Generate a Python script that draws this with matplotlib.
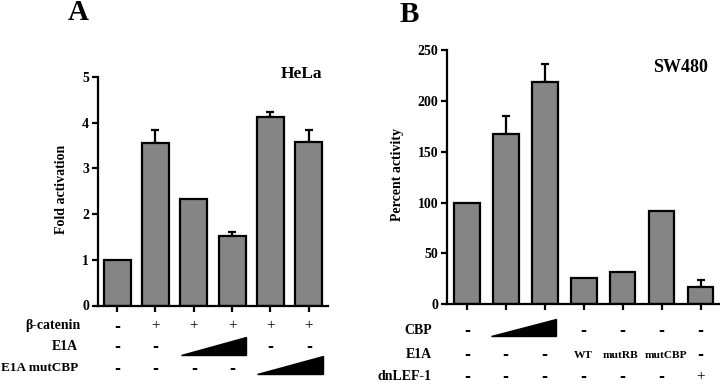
import matplotlib.pyplot as plt
from matplotlib.patches import Polygon
import matplotlib.transforms as mtransforms

# Panel A data (HeLa)
a_vals = [1.0, 3.56, 2.33, 1.53, 4.12, 3.57]
a_err = [0, 0.28, 0, 0.07, 0.11, 0.27]
a_beta = ['-', '+', '+', '+', '+', '+']
a_e1a = ['-', '-', None, None, '-', '-']
a_mut = ['-', '-', '-', '-', None, None]

# Panel B data (SW480)
b_vals = [100, 167, 219, 26, 32, 92, 17]
b_err = [0, 18, 17, 0, 0, 0, 7]
b_cbp = ['-', None, None, '-', '-', '-', '-']
b_e1a = ['-', '-', '-', 'WT', 'mutRB', 'mutCBP', '-']
b_lef = ['-', '-', '-', '-', '-', '-', '+']

W, H = 720, 385
plt.rcParams['font.family'] = 'Liberation Serif'
plt.rcParams['font.weight'] = 'bold'
fig = plt.figure(figsize=(W / 100, H / 100), dpi=100)

# small horizontal nudges (pixels) so the long row labels don't collide
nudge = {'mutRB': -2, 'mutCBP': 4}

def px_axes(x0, x1, y_top, y_bot):
    return fig.add_axes([x0 / W, 1 - y_bot / H, (x1 - x0) / W, (y_bot - y_top) / H])

def style(ax):
    for s in ['top', 'right']:
        ax.spines[s].set_visible(False)
    for s in ['left', 'bottom']:
        ax.spines[s].set_linewidth(1.6)
    ax.tick_params(width=1.6, length=4.5, labelsize=10, pad=2)
    for lab in ax.get_yticklabels():
        lab.set_fontweight('bold')
    ax.set_xticklabels([])

def row(ax, y, items, label, label_x, label_size=10):
    tr = mtransforms.blended_transform_factory(ax.transData, fig.transFigure)
    fy = 1 - y / H
    for i, t in enumerate(items):
        if t is None:
            continue
        if t == '-':
            ax.text(i, fy, '-', transform=tr, ha='center', va='center', fontsize=10.5,
                    family='DejaVu Sans', fontweight='bold', clip_on=False)
        elif t == '+':
            ax.text(i, fy, '+', transform=tr, ha='center', va='center', fontsize=11,
                    fontweight='normal', clip_on=False)
        else:
            off = mtransforms.ScaledTranslation(nudge.get(t, 0) / 100, 0, fig.dpi_scale_trans)
            ax.text(i, fy, t, transform=tr + off, ha='center', va='center', fontsize=8.2,
                    fontweight='bold', clip_on=False)
    fig.text(label_x / W, fy, label, ha='right', va='center', fontsize=label_size, fontweight='bold')

def wedge(ax, x0, x1, y_bot, y_top):
    tr = mtransforms.blended_transform_factory(ax.transData, fig.transFigure)
    p = Polygon([[x0, 1 - y_bot / H], [x1, 1 - y_bot / H], [x1, 1 - y_top / H]],
                closed=True, facecolor='black', edgecolor='black', transform=tr, clip_on=False)
    ax.add_patch(p)

def bars(ax, vals, errs, width):
    x = list(range(len(vals)))
    ax.bar(x, vals, width=width, color='#858585', edgecolor='black', linewidth=1.6, zorder=2)
    ex = [i for i in x if errs[i] > 0]
    ey = [vals[i] for i in ex]
    ee = [errs[i] for i in ex]
    ax.errorbar(ex, ey, yerr=[[0] * len(ee), ee], fmt='none', ecolor='black',
                elinewidth=1.6, capsize=3, capthick=1.6, zorder=1)
    ax.set_xticks(x)

# ---- Panel A
axA = px_axes(98, 328, 77, 305.5)
bars(axA, a_vals, a_err, 0.7)
axA.set_xlim(-0.5, 5.5)
axA.set_ylim(0, 5)
axA.set_yticks([0, 1, 2, 3, 4, 5])
style(axA)
axA.set_ylabel('Fold activation', fontsize=10, fontweight='bold')
axA.yaxis.set_label_coords((68 - 98) / 230, 0.51)
fig.text(322 / W, 1 - 74 / H, 'HeLa', ha='right', va='center', fontsize=12.5, fontweight='bold')
fig.text(78 / W, 1 - 13 / H, 'A', ha='center', va='center', fontsize=21, fontweight='bold')
row(axA, 326, a_beta, '\u03b2-catenin', 80)
row(axA, 346, a_e1a, 'E1A', 78)
row(axA, 368, a_mut, 'E1A mutCBP', 78, 9.5)
wedge(axA, 1.67, 3.37, 355, 337)
wedge(axA, 3.65, 5.36, 373.5, 356)

# ---- Panel B
axB = px_axes(447.3, 720, 50, 304.3)
bars(axB, b_vals, b_err, 0.66)
axB.set_xlim(-0.5, 6.5)
axB.set_ylim(0, 250)
axB.set_yticks([0, 50, 100, 150, 200, 250])
style(axB)
axB.set_ylabel('Percent activity', fontsize=10, fontweight='bold')
axB.yaxis.set_label_coords((404 - 447.3) / 272.7, 0.512)
fig.text(680 / W, 1 - 67 / H, 'SW480', ha='center', va='center', fontsize=13, fontweight='bold')
fig.text(409 / W, 1 - 14 / H, 'B', ha='center', va='center', fontsize=21, fontweight='bold')
row(axB, 330, b_cbp, 'CBP', 432)
row(axB, 355, b_e1a, 'E1A', 432)
row(axB, 377, b_lef, 'dnLEF-1', 432)
wedge(axB, 0.63, 2.3, 336, 318.5)

fig.savefig('out.png', dpi=100)
